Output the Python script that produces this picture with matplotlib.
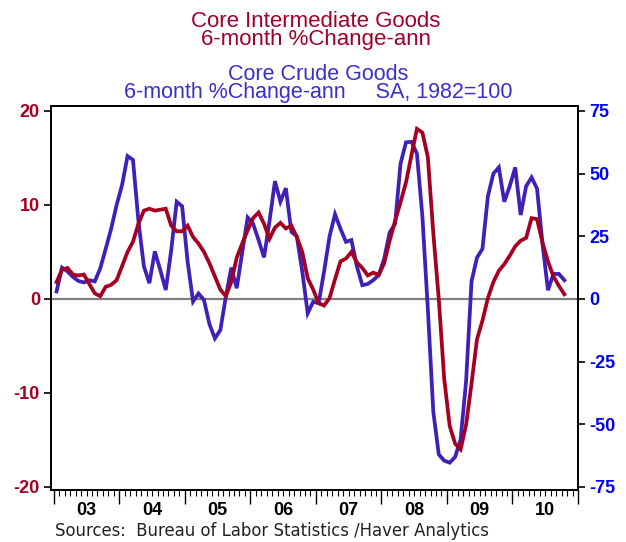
import matplotlib
matplotlib.use("Agg")
import matplotlib.pyplot as plt
import numpy as np
from matplotlib.ticker import FixedLocator, NullFormatter

# monthly data, Jan 2003 .. Oct 2010
intermediate = [1.8, 3.1, 3.3, 2.6, 2.5, 2.6, 1.6, 0.6, 0.3, 1.3,
                1.5, 2.0, 3.5, 5.0, 6.1, 8.0, 9.4, 9.6, 9.4, 9.5,
                9.6, 7.8, 7.2, 7.2, 7.8, 6.6, 5.9, 5.0, 3.8, 2.4,
                1.0, 0.3, 1.8, 4.4, 5.9, 7.3, 8.6, 9.2, 8.0, 6.4,
                7.6, 8.1, 7.5, 7.8, 6.6, 5.0, 2.2, 1.0, -0.45, -0.7,
                0.1, 2.1, 4.0, 4.3, 5.0, 3.9, 3.3, 2.5, 2.8, 2.55,
                3.8, 6.2, 8.3, 10.3, 12.4, 15.3, 18.1, 17.7, 15.1, 7.0,
                0.0, -8.5, -13.5, -15.4, -16.0, -13.4, -9.0, -4.3, -2.3, 0.1,
                1.8, 3.0, 3.7, 4.6, 5.6, 6.2, 6.5, 8.6, 8.5, 6.0,
                4.0, 2.4, 1.4, 0.5]
crude = [3.0, 12.5, 11.0, 8.8, 7.2, 6.6, 7.5, 7.0, 12.2, 20.0,
         28.0, 37.5, 45.5, 57.0, 55.5, 31.0, 13.0, 6.3, 19.0, 11.5,
         3.6, 19.5, 38.8, 37.0, 15.0, -1.0, 2.2, -0.4, -10.0, -15.7,
         -12.4, 0.9, 12.5, 4.3, 18.5, 32.5, 30.0, 23.5, 16.6, 31.0,
         47.0, 38.8, 44.2, 26.8, 25.0, 11.0, -5.7, -1.1, -1.7, 11.0,
         25.0, 33.8, 28.0, 22.8, 23.5, 13.0, 5.5, 6.0, 7.5, 9.5,
         16.0, 26.5, 30.0, 54.0, 62.5, 62.7, 58.0, 33.0, -4.0, -45.0,
         -62.0, -64.5, -65.3, -63.0, -56.0, -33.0, 7.0, 16.5, 20.0, 41.0,
         50.0, 52.5, 38.8, 45.0, 52.5, 33.5, 45.0, 48.5, 44.0, 22.0,
         3.5, 10.0, 10.0, 7.5]
years = ["03", "04", "05", "06", "07", "08", "09", "10"]
left_ticks = [-20, -10, 0, 10, 20]
right_ticks = [-75, -50, -25, 0, 25, 50, 75]

RED = "#A50021"
BLUE = "#4020B8"

dates = 2003 + (np.arange(len(intermediate)) + 0.5) / 12.0

fig = plt.figure(figsize=(6.26, 5.42), dpi=100)
ax = fig.add_axes([51 / 626, 1 - 490 / 542, (578 - 51) / 626, (490 - 106) / 542])
ax2 = ax.twinx()
ax.set_zorder(ax2.get_zorder() + 1)
ax.patch.set_visible(False)

ax2.axhline(0, color="#808080", lw=1.6, zorder=1)
ax2.plot(dates, crude, color=BLUE, lw=2.7, zorder=2, solid_joinstyle="miter")
ax.plot(dates, intermediate, color=RED, lw=2.7, zorder=3, solid_joinstyle="miter")

ax.set_xlim(2002.957, 2011.0)
ax.set_ylim(-20.32, 20.53)
ax2.set_ylim(-20.32 * 3.75, 20.53 * 3.75)

ax.set_yticks(left_ticks)
ax.set_yticklabels([str(t) for t in left_ticks], color=RED, fontweight="bold",
                   fontsize=13, family="Liberation Sans")
ax2.set_yticks(right_ticks)
ax2.set_yticklabels([str(t) for t in right_ticks], color="#0000FF", fontweight="bold",
                    fontsize=13, family="Liberation Sans")
ax.tick_params(axis="y", length=5, width=1.2, pad=3)
ax2.tick_params(axis="y", length=5, width=1.2, pad=3)

# year boundaries as major ticks, months as minor, labels in the middle
ax.xaxis.set_major_locator(FixedLocator(np.arange(2003, 2012)))
ax.xaxis.set_major_formatter(NullFormatter())
ax.xaxis.set_minor_locator(FixedLocator(2003 + np.arange(0, 97) / 12.0))
ax.tick_params(axis="x", which="major", length=10, width=1.0)
ax.tick_params(axis="x", which="minor", length=4.5, width=0.8)
for i, yr in enumerate(years):
    ax.text(2003.5 + i, -0.054, yr, transform=ax.get_xaxis_transform(),
            ha="center", va="center", fontsize=13, fontweight="bold",
            family="Liberation Sans")

for a in (ax, ax2):
    for s in a.spines.values():
        s.set_linewidth(1.3)

def ftext(x, y, s, **kw):
    fig.text(x / 626, 1 - y / 542, s, ha="center", va="top",
             multialignment="center", linespacing=0.8, **kw)

narrow = ["Liberation Sans Narrow", "Liberation Sans"]
ftext(316, 11, "Core Intermediate Goods\n6-month %Change-ann", color="#A0002A",
      fontsize=16, family=narrow)
ftext(318, 64, "Core Crude Goods\n6-month %Change-ann     SA, 1982=100", color="#3A30C8",
      fontsize=15.5, family=narrow)

fig.text(55 / 626, 1 - 531 / 542, "Sources:  Bureau of Labor Statistics /Haver Analytics",
         ha="left", va="center", fontsize=11.9, color="#222222", family="DejaVu Sans")

fig.savefig("out.png", dpi=100)
